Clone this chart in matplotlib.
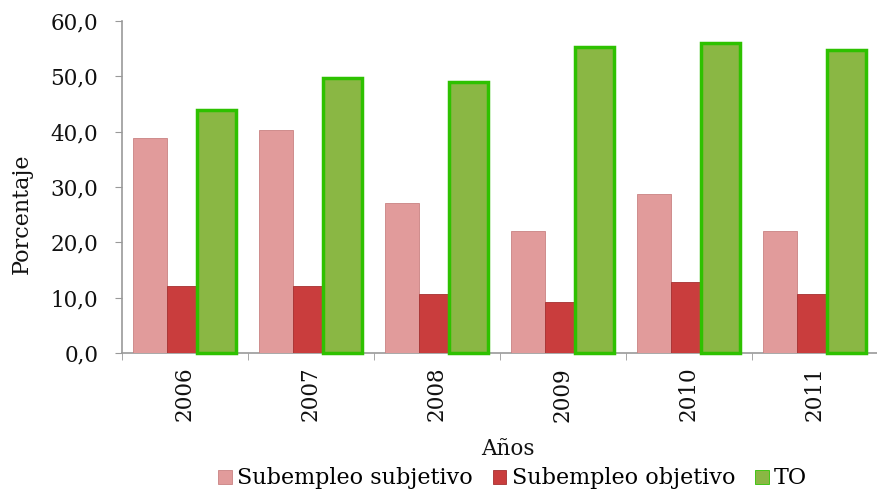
import matplotlib
matplotlib.use("Agg")
import matplotlib.pyplot as plt
import numpy as np
from matplotlib.ticker import FuncFormatter, FixedLocator

years = ["2006", "2007", "2008", "2009", "2010", "2011"]
subjetivo = [38.9, 40.3, 27.1, 22.1, 28.8, 22.1]
objetivo = [12.1, 12.1, 10.7, 9.2, 12.8, 10.7]
to = [43.9, 49.7, 49.0, 55.2, 55.9, 54.8]

plt.rcParams["font.family"] = ["DejaVu Serif"]

fig = plt.figure(figsize=(8.77, 4.95), dpi=100)
ax = fig.add_axes([0.139, 0.287, 0.862, 0.671])

x = np.arange(len(years))
ax.bar(x - 0.278, subjetivo, 0.27, color="#e19b9b", edgecolor="#c98282", linewidth=0.6,
       label="Subempleo subjetivo", zorder=3)
ax.bar(x - 0.024, objetivo, 0.24, color="#c93d3d", edgecolor="#a53030", linewidth=0.6,
       label="Subempleo objetivo", zorder=3)
ax.bar(x + 0.254, to, 0.31, color="#8ab744", edgecolor="#2ec100", linewidth=2.5,
       label="TO", zorder=4, clip_on=False)

ax.set_xlim(-0.5, len(years) - 0.5)
ax.set_ylim(0, 60)
ax.set_yticks(np.arange(0, 61, 10))
ax.yaxis.set_major_formatter(FuncFormatter(lambda v, p: f"{v:.1f}".replace(".", ",")))
ax.set_xticks(x)
ax.set_xticklabels(years, rotation=90)
ax.xaxis.set_minor_locator(FixedLocator(np.arange(-0.5, len(years), 1.0)))
ax.tick_params(axis="x", which="major", length=0, pad=10, labelsize=15.5, labelcolor="#111111")
ax.tick_params(axis="x", which="minor", length=5, color="#999999", direction="out")
ax.tick_params(axis="y", length=5, color="#999999", labelsize=15.5, labelcolor="#111111", pad=12)

for s in ["top", "right"]:
    ax.spines[s].set_visible(False)
for s in ["left", "bottom"]:
    ax.spines[s].set_color("#999999")
    ax.spines[s].set_linewidth(1.2)

ax.set_ylabel("Porcentaje", fontsize=16, color="#111111")
ax.yaxis.set_label_coords(-0.118, 0.42)
ax.set_xlabel("Años", fontsize=15.5, color="#111111")
ax.xaxis.set_label_coords(0.51, -0.256)

leg = ax.legend(loc="center", bbox_to_anchor=(0.517, -0.378), ncol=3, frameon=False,
                fontsize=16, handlelength=0.6, handleheight=0.6, handletextpad=0.25,
                columnspacing=0.9, borderpad=0)
leg.legend_handles[2].set_linewidth(0.6)

fig.savefig("out.png", dpi=100)
